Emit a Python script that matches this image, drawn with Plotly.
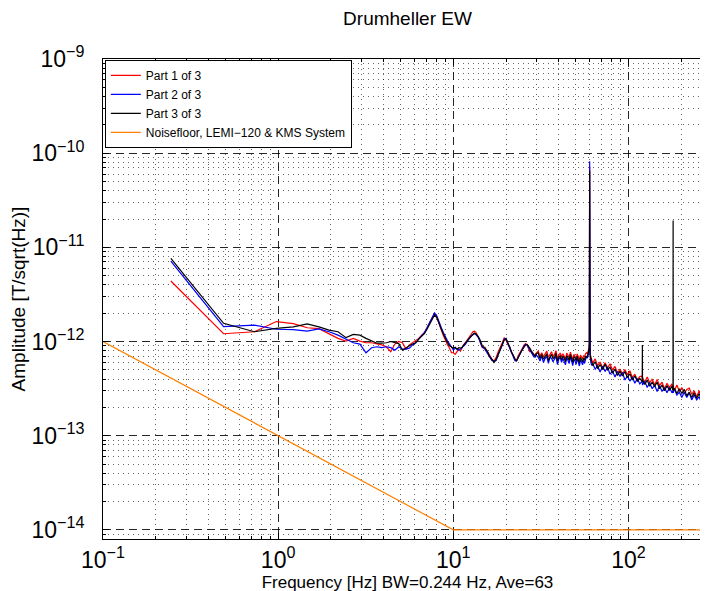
import math
import plotly.graph_objects as go

# Frequency bins [Hz] (BW = 0.244 Hz) used for the three spectra
FREQ_HZ = [
    0.244, 0.488, 0.732, 0.977, 1.221, 1.465, 1.709, 1.953, 2.197, 2.441,
    2.686, 2.930, 3.174, 3.418, 3.662, 3.906, 4.150, 4.395, 4.639, 4.883,
    5.127, 5.371, 5.615, 5.859, 6.104, 6.348, 6.592, 6.836, 7.080, 7.324,
    7.568, 7.813, 8.057, 8.301, 8.545, 8.789, 9.033, 9.277, 9.521, 9.766,
    10.010, 10.254, 10.498, 10.742, 10.986, 11.230, 11.475, 11.719, 11.963, 12.207,
    12.451, 12.695, 12.939, 13.184, 13.428, 13.672, 13.916, 14.160, 14.404, 14.648,
    15.137, 15.625, 16.113, 16.602, 17.090, 17.578, 18.066, 18.555, 19.043, 19.531,
    20.020, 20.508, 20.996, 21.484, 21.973, 22.461, 22.949, 23.438, 23.926, 24.414,
    24.902, 25.391, 25.879, 26.367, 26.855, 27.344, 27.832, 28.320, 28.809, 29.297,
    29.785,
    30.518, 31.250, 31.982, 32.715, 33.447, 34.180, 34.912, 35.645, 36.377, 37.109,
    37.842, 38.574, 39.307, 40.039, 40.771, 41.504, 42.236, 42.969, 43.701, 44.434,
    45.166, 45.898, 46.631, 47.363, 48.096, 48.828, 49.561, 50.293, 51.025, 51.758,
    52.490, 53.223, 53.955, 54.688, 55.420, 56.152, 56.885, 57.617,
    58.350, 58.838, 59.326, 59.570, 59.814, 60.059, 60.303, 60.547, 61.035, 61.523,
    62.5, 64.6, 66.7, 68.9, 71.2, 73.6, 76.0, 78.5, 81.1, 83.8,
    86.6, 89.5, 92.4, 95.5, 98.6, 101.9, 105.3, 108.8, 112.4, 116.1,
    119.873, 120.117, 120.361, 123.9, 128.0, 132.2, 136.6, 141.1, 145.8, 150.6,
    155.6, 160.7, 166.0, 171.5, 177.2, 179.688, 179.932, 180.176, 183.0, 189.1,
    195.3, 201.8, 208.4, 215.3, 222.4, 229.8, 237.4, 245.2, 253.3, 261.7,
    270.3, 279.3, 288.5, 298.0,
]

# Amplitudes in pT/sqrt(Hz)
PART1_PT = [
    4.39, 1.21, 1.27, 1.63, 1.55, 1.40, 1.37, 1.21, 1.08, 1.01,
    1.08, 1.01, 0.97, 0.97, 0.95, 0.92, 0.88, 0.78, 0.94, 1.00,
    0.97, 0.83, 0.92, 0.97, 1.01, 1.08, 1.17, 1.24, 1.40, 1.59,
    1.79, 1.98, 1.82, 1.52, 1.32, 1.15, 1.01, 0.92, 0.85, 0.76,
    0.76, 0.73, 0.78, 0.83, 0.79, 0.86, 0.93, 0.97, 1.03, 1.10,
    1.15, 1.21, 1.27, 1.29, 1.26, 1.19, 1.12, 1.03, 0.93, 0.86,
    0.87, 0.79, 0.73, 0.65, 0.62, 0.68, 0.78, 0.86, 0.97, 1.10,
    1.03, 0.93, 0.86, 0.76, 0.72, 0.65, 0.63, 0.70, 0.76, 0.81,
    0.86, 0.92, 0.95, 0.92, 0.86, 0.78, 0.79, 0.75, 0.70, 0.73,
    0.76,
    0.79, 0.70, 0.76, 0.69, 0.74, 0.79, 0.68, 0.73, 0.78, 0.695,
    0.73, 0.80, 0.665, 0.72, 0.755, 0.69, 0.74, 0.70, 0.655, 0.755,
    0.71, 0.68, 0.77, 0.695, 0.645, 0.73, 0.70, 0.665, 0.74, 0.69,
    0.635, 0.72, 0.69, 0.655, 0.71, 0.68, 0.74, 0.76,
    0.74, 0.78, 0.83, 0.86, 0.93, 72.0, 0.83, 0.73, 0.68, 0.63,
    0.59, 0.655, 0.555, 0.605, 0.525, 0.595, 0.525, 0.58, 0.50, 0.545,
    0.46, 0.51, 0.45, 0.505, 0.445, 0.49, 0.415, 0.45, 0.39, 0.425,
    0.43, 0.40, 0.415, 0.37, 0.42, 0.365, 0.40, 0.345, 0.395, 0.34,
    0.37, 0.315, 0.36, 0.325, 0.355, 0.31, 0.325, 0.34, 0.30, 0.345,
    0.295, 0.325, 0.28, 0.31, 0.32, 0.275, 0.30, 0.26, 0.30, 0.26,
    0.285, 0.245, 0.28, 0.24,
]

PART2_PT = [
    7.15, 1.44, 1.49, 1.35, 1.34, 1.29, 1.36, 1.27, 1.17, 1.06,
    0.97, 0.94, 0.76, 0.86, 0.88, 0.86, 0.88, 0.86, 0.81, 0.88,
    0.83, 0.83, 0.85, 0.92, 0.97, 1.06, 1.15, 1.24, 1.40, 1.59,
    1.82, 2.02, 1.87, 1.59, 1.40, 1.24, 1.10, 1.01, 0.94, 0.86,
    0.81, 0.85, 0.83, 0.81, 0.83, 0.86, 0.90, 0.93, 0.99, 1.06,
    1.10, 1.15, 1.19, 1.21, 1.19, 1.15, 1.10, 1.01, 0.95, 0.87,
    0.83, 0.76, 0.69, 0.63, 0.62, 0.63, 0.73, 0.81, 0.92, 1.06,
    1.08, 0.95, 0.85, 0.76, 0.68, 0.63, 0.62, 0.67, 0.72, 0.79,
    0.85, 0.90, 0.93, 0.92, 0.87, 0.81, 0.76, 0.73, 0.69, 0.68,
    0.72,
    0.68, 0.62, 0.70, 0.60, 0.665, 0.69, 0.585, 0.68, 0.665, 0.61,
    0.65, 0.695, 0.57, 0.65, 0.68, 0.60, 0.665, 0.62, 0.565, 0.68,
    0.63, 0.585, 0.69, 0.61, 0.555, 0.65, 0.62, 0.57, 0.665, 0.60,
    0.55, 0.63, 0.61, 0.565, 0.63, 0.585, 0.665, 0.70,
    0.665, 0.70, 0.76, 0.81, 0.87, 82.0, 0.76, 0.665, 0.60, 0.565,
    0.58, 0.51, 0.55, 0.475, 0.545, 0.48, 0.535, 0.45, 0.485, 0.42,
    0.48, 0.425, 0.47, 0.39, 0.43, 0.38, 0.42, 0.36, 0.405, 0.355,
    0.38, 0.365, 0.345, 0.38, 0.325, 0.365, 0.315, 0.345, 0.295, 0.34,
    0.295, 0.325, 0.285, 0.325, 0.285, 0.30, 0.295, 0.285, 0.315, 0.27,
    0.29, 0.255, 0.29, 0.255, 0.285, 0.24, 0.27, 0.24, 0.26, 0.22,
    0.255, 0.225, 0.245, 0.21,
]

PART3_PT = [
    7.63, 1.56, 1.27, 1.38, 1.43, 1.54, 1.43, 1.32, 1.27, 1.10,
    1.19, 1.17, 1.08, 1.01, 0.96, 0.96, 0.97, 1.00, 0.97, 0.95,
    0.81, 0.86, 0.90, 0.94, 0.97, 1.06, 1.15, 1.21, 1.35, 1.52,
    1.72, 1.91, 1.79, 1.52, 1.35, 1.19, 1.06, 0.97, 0.90, 0.88,
    0.85, 0.87, 0.83, 0.86, 0.85, 0.87, 0.92, 0.95, 1.01, 1.06,
    1.10, 1.15, 1.19, 1.23, 1.21, 1.17, 1.12, 1.06, 0.97, 0.90,
    0.85, 0.79, 0.70, 0.65, 0.60, 0.65, 0.74, 0.83, 0.93, 1.04,
    1.06, 0.97, 0.88, 0.78, 0.70, 0.66, 0.62, 0.68, 0.73, 0.78,
    0.83, 0.88, 0.92, 0.93, 0.90, 0.85, 0.80, 0.76, 0.73, 0.70,
    0.74,
    0.76, 0.66, 0.73, 0.65, 0.70, 0.74, 0.63, 0.69, 0.73, 0.66,
    0.68, 0.75, 0.62, 0.68, 0.71, 0.64, 0.70, 0.67, 0.61, 0.71,
    0.68, 0.63, 0.73, 0.66, 0.60, 0.69, 0.67, 0.62, 0.70, 0.64,
    0.59, 0.68, 0.65, 0.61, 0.67, 0.63, 0.70, 0.68,
    0.70, 0.74, 0.79, 0.83, 0.90, 65.0, 0.79, 0.70, 0.65, 0.61,
    0.555, 0.61, 0.515, 0.57, 0.505, 0.575, 0.50, 0.535, 0.46, 0.51,
    0.435, 0.485, 0.43, 0.48, 0.415, 0.455, 0.39, 0.43, 0.38, 0.405,
    0.375, 0.92, 0.395, 0.35, 0.39, 0.335, 0.37, 0.335, 0.37, 0.315,
    0.345, 0.30, 0.34, 0.305, 0.335, 0.30, 19.3, 0.30, 0.32, 0.28,
    0.315, 0.28, 0.31, 0.265, 0.29, 0.255, 0.285, 0.25, 0.28, 0.24,
    0.26, 0.24, 0.26, 0.225,
]

# Instrument noise floor (LEMI-120 & KMS System)
NOISE_FREQ = [0.1, 10.0, 300.0]
NOISE_AMP = [1e-12, 1e-14, 1e-14]

SERIES_NAMES = ["Part 1 of 3", "Part 2 of 3", "Part 3 of 3",
                "Noisefloor, LEMI\u2212120 & KMS System"]
SERIES_COLORS = ["#ff0000", "#0000ff", "#000000", "#ff8000"]

X_TICKS = [0.1, 1, 10, 100]
X_TICK_TEXT = ["10<sup>\u22121</sup>", "10<sup>0</sup>", "10<sup>1</sup>", "10<sup>2</sup>"]
Y_TICKS = [1e-14, 1e-13, 1e-12, 1e-11, 1e-10, 1e-9]
Y_TICK_TEXT = ["10<sup>\u221214</sup>", "10<sup>\u221213</sup>", "10<sup>\u221212</sup>",
               "10<sup>\u221211</sup>", "10<sup>\u221210</sup>", "10<sup>\u22129</sup>"]

TITLE = "Drumheller EW"
X_LABEL = "Frequency [Hz] BW=0.244 Hz, Ave=63"
Y_LABEL = "Amplitude [T/sqrt(Hz)]"

PT = 1e-12
fig = go.Figure()
for name, color, vals in zip(SERIES_NAMES[:3], SERIES_COLORS[:3], [PART1_PT, PART2_PT, PART3_PT]):
    fig.add_trace(go.Scatter(x=FREQ_HZ, y=[v * PT for v in vals], mode="lines", name=name,
                             line=dict(color=color, width=1.2)))
fig.add_trace(go.Scatter(x=NOISE_FREQ, y=NOISE_AMP, mode="lines", name=SERIES_NAMES[3],
                         line=dict(color=SERIES_COLORS[3], width=1.2)))

x_minor = [m * 10.0 ** e for e in range(-1, 3) for m in range(2, 10)]
y_minor = [m * 10.0 ** e for e in range(-15, -9) for m in range(2, 10)]

FONT = "Liberation Sans, Arial, Helvetica, sans-serif"
common = dict(
    type="log", tickmode="array", ticks="inside", ticklen=6, tickcolor="black",
    showline=True, linecolor="black", linewidth=1, mirror="ticks",
    showgrid=True, gridcolor="rgba(0,0,0,0.85)", gridwidth=1, griddash="8px,5px",
    zeroline=False, automargin=False, tickfont=dict(size=23, family=FONT, color="black"),
)

fig.update_layout(
    width=708, height=591,
    margin=dict(l=95, r=4, t=51, b=60),
    paper_bgcolor="white", plot_bgcolor="white",
    font=dict(family=FONT, color="black"),
    title=dict(text=TITLE, x=0.5, xref="paper", xanchor="center", y=1 - 10 / 591,
               yref="container", yanchor="middle", font=dict(size=19)),
    showlegend=True,
    legend=dict(x=0.003, y=0.998, xanchor="left", yanchor="top", bgcolor="white",
                bordercolor="black", borderwidth=1, font=dict(size=12, family=FONT),
                tracegroupgap=0),
    xaxis=dict(
        range=[-1, math.log10(300)], tickvals=X_TICKS, ticktext=X_TICK_TEXT,
        ticklabelstandoff=0,
        minor=dict(tickmode="array", tickvals=x_minor, ticks="inside", ticklen=3, tickcolor="black",
                   showgrid=True, gridcolor="rgba(0,0,0,0.6)", gridwidth=1, griddash="1px,4px"),
        title=dict(text=X_LABEL, font=dict(size=17), standoff=2),
        **common,
    ),
    yaxis=dict(
        range=[math.log10(8e-15), -9], tickvals=Y_TICKS, ticktext=Y_TICK_TEXT,
        ticklabelstandoff=13,
        minor=dict(tickmode="array", tickvals=y_minor, ticks="inside", ticklen=3, tickcolor="black",
                   showgrid=True, gridcolor="rgba(0,0,0,0.6)", gridwidth=1, griddash="1px,4px"),
        title=dict(text=Y_LABEL, font=dict(size=19), standoff=4),
        **common,
    ),
)

fig.write_html("out.html")
